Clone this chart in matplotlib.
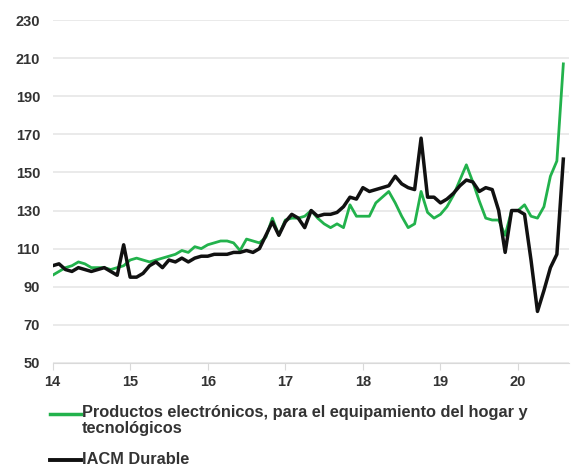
import numpy as np
from matplotlib import pyplot as plt
from matplotlib.lines import Line2D

plt.rcParams['font.family'] = ['Liberation Sans', 'DejaVu Sans']

GREEN = '#22b24c'
BLACK = '#111111'
TEXT = '#333333'

# monthly values, Jan 2014 - Aug 2020
electronicos = [
    96, 98, 100, 101, 103, 102, 100, 100, 100, 99, 100, 101,      # 2014
    104, 105, 104, 103, 104, 105, 106, 107, 109, 108, 111, 110,   # 2015
    112, 113, 114, 114, 113, 109, 115, 114, 113, 116, 126, 117,   # 2016
    125, 126, 126, 127, 130, 126, 123, 121, 123, 121, 133, 127,   # 2017
    127, 127, 134, 137, 140, 134, 127, 121, 123, 140, 129, 126,   # 2018
    128, 132, 138, 146, 154, 145, 135, 126, 125, 125, 117, 130,   # 2019
    130, 133, 127, 126, 132, 148, 156, 207,                       # 2020
]
iacm_durable = [
    101, 102, 99, 98, 100, 99, 98, 99, 100, 98, 96, 112,          # 2014
    95, 95, 97, 101, 103, 100, 104, 103, 105, 103, 105, 106,      # 2015
    106, 107, 107, 107, 108, 108, 109, 108, 110, 117, 124, 117,   # 2016
    124, 128, 126, 121, 130, 127, 128, 128, 129, 132, 137, 136,   # 2017
    142, 140, 141, 142, 143, 148, 144, 142, 141, 168, 137, 137,   # 2018
    134, 136, 139, 143, 146, 145, 140, 142, 141, 130, 108, 130,   # 2019
    130, 128, 104, 77, 88, 100, 107, 157,                         # 2020
]
labels = ['Productos electrónicos, para el equipamiento del hogar y\ntecnológicos',
          'IACM Durable']
year_ticks = [2014, 2015, 2016, 2017, 2018, 2019, 2020]
year_labels = ['14', '15', '16', '17', '18', '19', '20']
y_ticks = list(range(50, 231, 20))

t = 2014 + np.arange(len(electronicos)) / 12.0

fig = plt.figure(figsize=(5.71, 4.67), dpi=100)
ax = fig.add_axes([0.092, 0.223, 0.905, 0.734])

ax.plot(t, electronicos, color=GREEN, lw=2.0)
ax.plot(t, iacm_durable, color=BLACK, lw=2.5)

ax.set_xlim(2014, 2020.66)
ax.set_ylim(50, 230)
ax.set_yticks(y_ticks)
ax.set_xticks(year_ticks)
ax.set_xticklabels(year_labels)
ax.grid(axis='y', color='#e6e6e6', lw=1.2)
ax.set_axisbelow(True)

for s in ['top', 'right', 'left']:
    ax.spines[s].set_visible(False)
ax.spines['bottom'].set_color('#d9d9d9')
ax.tick_params(axis='y', length=0, pad=9, labelsize=10.5)
ax.tick_params(axis='x', length=5, color='#d9d9d9', pad=4, labelsize=10.5)
for lab in ax.get_xticklabels() + ax.get_yticklabels():
    lab.set_fontweight('bold')
    lab.set_color(TEXT)

# legend below the plot, handles aligned with the first text line
fig.add_artist(Line2D([0.087, 0.141], [1 - 414 / 467] * 2, color=GREEN, lw=2.5,
                      transform=fig.transFigure))
fig.text(0.143, 1 - 405 / 467, labels[0], ha='left', va='top', fontsize=11.8,
         fontweight='bold', color=TEXT, linespacing=1.12)
fig.add_artist(Line2D([0.087, 0.141], [1 - 460 / 467] * 2, color=BLACK, lw=2.8,
                      transform=fig.transFigure))
fig.text(0.143, 1 - 460 / 467, labels[1], ha='left', va='center', fontsize=11.8,
         fontweight='bold', color=TEXT)

fig.savefig('out.png', dpi=100)
